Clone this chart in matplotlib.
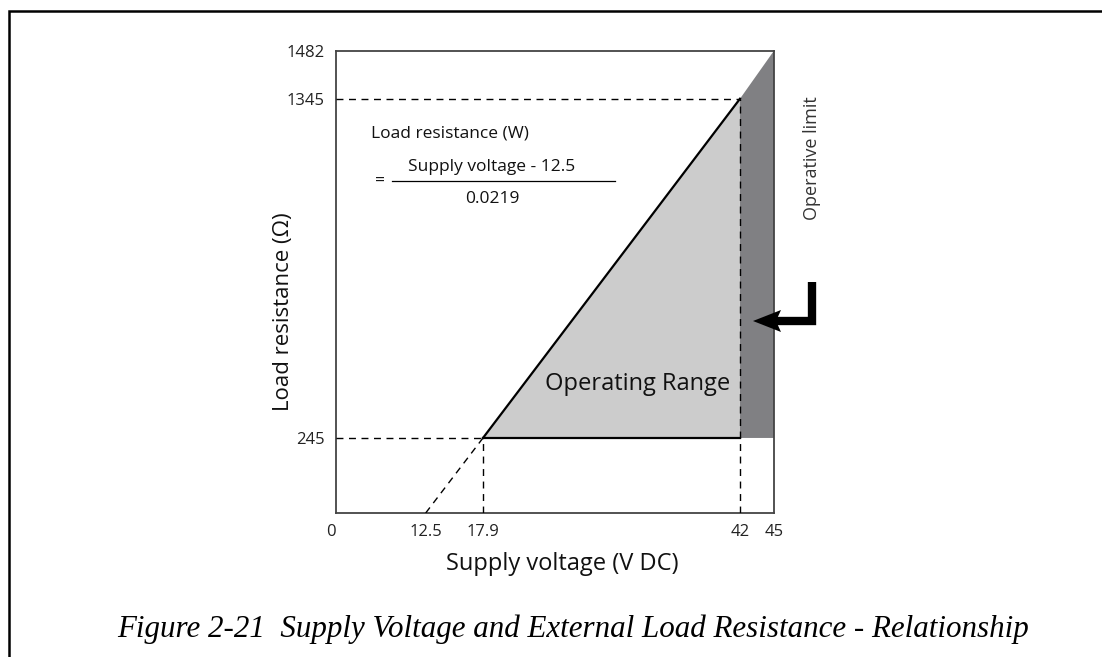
import numpy as np
import matplotlib
matplotlib.use('Agg')
from matplotlib import pyplot as plt
from matplotlib.lines import Line2D
from matplotlib.patches import Polygon

# values
volt_ticks = [0, 12.5, 17.9, 42, 45]
volt_tick_labels = ['0', '12.5', '17.9', '42', '45']
res_ticks = [245, 1345, 1482]
res_tick_labels = ['245', '1345', '1482']

v_intercept = 12.5
v_min, v_max, v_limit = 17.9, 42, 45
r_min, r_max, r_limit = 245, 1345, 1482

# the drawing is schematic, so the axes are piecewise linear
x_knots = [0, 12.5, 17.9, 42, 45]
x_pos = [0, 89.7, 147, 404, 438]
y_knots = [0, 245, 1345, 1482]
y_pos = [0, 75, 414, 462]

W, H = 1102, 657
SANS = ['Open Sans', 'DejaVu Sans']


def fx(x, y):
  '''image pixels -> figure fraction'''
  return x / W, 1 - y / H


fig = plt.figure(figsize=(W / 100, H / 100), dpi=100)
ax = fig.add_axes([336 / W, 1 - 513 / H, 438 / W, 462.3 / H])

ax.set_xscale('function', functions=(lambda v: np.interp(v, x_knots, x_pos),
                                     lambda p: np.interp(p, x_pos, x_knots)))
ax.set_yscale('function', functions=(lambda v: np.interp(v, y_knots, y_pos),
                                     lambda p: np.interp(p, y_pos, y_knots)))
ax.set_xlim(0, v_limit)
ax.set_ylim(0, r_limit)

# operative limit band
ax.add_patch(Polygon([(v_max, r_min), (v_max, r_max), (v_limit, r_limit), (v_limit, r_min)],
                     closed=True, fc='#808083', ec='none', zorder=1))
# operating range
ax.add_patch(Polygon([(v_min, r_min), (v_max, r_max), (v_max, r_min)],
                     closed=True, fc='#cccccc', ec='none', zorder=1))
ax.plot([v_min, v_max], [r_min, r_max], color='black', lw=1.6, zorder=3)
ax.plot([v_min, v_max], [r_min, r_min], color='black', lw=1.6, zorder=3)

dash = dict(color='black', lw=1.0, dashes=(5, 4), zorder=4)
ax.plot([0, v_max], [r_max, r_max], **dash)
ax.plot([0, v_min], [r_min, r_min], **dash)
ax.plot([v_min, v_min], [0, r_min], **dash)
ax.plot([v_max, v_max], [0, r_max], **dash)
ax.plot([v_intercept, v_min], [0, r_min], **dash)

for s in ax.spines.values():
  s.set_color('#444444')
  s.set_linewidth(1.3)
ax.tick_params(length=0, pad=8, labelsize=12, colors='#222222')
ax.set_xticks(volt_ticks)
ax.set_xticklabels(volt_tick_labels, family=SANS)
ax.get_xticklabels()[0].set_ha('right')
ax.set_yticks(res_ticks)
ax.set_yticklabels(res_tick_labels, family=SANS)
ax.minorticks_off()

fig.text(*fx(562, 564), 'Supply voltage (V DC)', ha='center', va='center',
         fontsize=17, family=SANS, color='#111111')
fig.text(*fx(284, 312), 'Load resistance (Ω)', ha='center', va='center',
         rotation=90, fontsize=16, family=SANS, color='#111111')

# formula
fig.text(*fx(371, 133), 'Load resistance (W)', ha='left', va='center',
         fontsize=12.5, family=SANS, color='#111111')
fig.text(*fx(492, 167), 'Supply voltage - 12.5', ha='center', va='center',
         fontsize=12.5, family=SANS, color='#111111')
fig.text(*fx(492, 199), '0.0219', ha='center', va='center',
         fontsize=12.5, family=SANS, color='#111111')
fig.text(*fx(380, 182), '=', ha='center', va='center',
         fontsize=12.5, family=SANS, color='#111111')
fig.add_artist(Line2D([392 / W, 615 / W], [1 - 181 / H] * 2, color='black', lw=0.9))

fig.text(*fx(638, 384), 'Operating Range', ha='center', va='center',
         fontsize=17, family=SANS, color='#111111')
fig.text(*fx(812, 158), 'Operative limit', ha='center', va='center',
         rotation=90, fontsize=13, family=SANS, color='#333333')

# L shaped arrow
fig.add_artist(Line2D([812 / W, 812 / W, 776 / W], [1 - 282 / H, 1 - 321 / H, 1 - 321 / H],
                      color='black', lw=6, solid_joinstyle='miter', solid_capstyle='butt'))
fig.add_artist(Polygon([fx(753, 321), fx(781, 310), fx(776, 321), fx(781, 332)],
                       closed=True, fc='black', ec='none', transform=fig.transFigure))

fig.text(*fx(573, 629), 'Figure 2-21  Supply Voltage and External Load Resistance - Relationship',
         ha='center', va='center', fontsize=22.3, family='Liberation Serif', style='italic')

# page frame
fig.add_artist(Line2D([9 / W, 9 / W, 1], [0, 1 - 11 / H, 1 - 11 / H], color='black', lw=1.8,
                      solid_joinstyle='miter'))

fig.savefig('out.png', dpi=100)
